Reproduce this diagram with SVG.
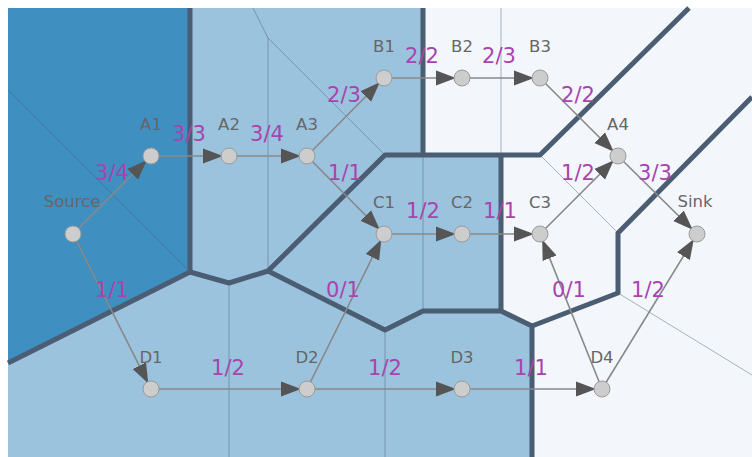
<svg xmlns="http://www.w3.org/2000/svg" width="752" height="457" viewBox="0 0 752 457">
<style>
.dark{fill:#3f8fc0}
.mid{fill:#9bc3de}
.light{fill:#f3f7fb}
.cut{fill:none;stroke:#4a5d72;stroke-width:5;stroke-linejoin:round}
.thin{fill:none;stroke:#4a5d72;stroke-width:1;stroke-opacity:0.45}
.edge{fill:none;stroke:#888;stroke-width:1.6;marker-end:url(#arr)}
.node circle{fill:#cdcdcd;stroke:#9a9a9a;stroke-width:1}
.nl{font-family:"DejaVu Sans",sans-serif;font-size:16.5px;fill:#666;text-anchor:middle}
.el{font-family:"DejaVu Sans",sans-serif;font-size:21px;fill:#a844ae;text-anchor:middle}
</style>
<defs>
<marker id="arr" markerUnits="userSpaceOnUse" markerWidth="21" markerHeight="16" refX="20" refY="8" orient="auto">
<path d="M0,0.5 L20,8 L0,15.5 Z" fill="#555"/>
</marker>
</defs>
<rect x="0" y="0" width="752" height="457" fill="#fff"/>
<g id="regions">
<path class="light" d="M8,8 H752 V457 H8 Z"/>
<path class="dark" d="M8,8 H190 V272 L8,363 Z"/>
<path class="mid" d="M190,8 H423 V155 H385 L268,271 L229,283 L190,272 Z"/>
<path class="mid" d="M385,155 H501 V311 H423 L385,330 L268,271 Z"/>
<path class="mid" d="M8,363 L190,272 L229,283 L268,271 L385,330 L423,311 H501 L532,326 V457 H8 Z"/>
</g>
<g id="thin-lines">
<path class="thin" d="M8,90 L190,272"/>
<path class="thin" d="M253,8 L268,38 L385,155"/>
<path class="thin" d="M268,38 V271"/>
<path class="thin" d="M229,283 V457"/>
<path class="thin" d="M385,330 V457"/>
<path class="thin" d="M423,155 V311"/>
<path class="thin" d="M501,8 V155" stroke-opacity="0.2"/>
<path class="thin" d="M540,155 L618,233"/>
<path class="thin" d="M618,293 L752,375"/>
</g>
<g id="cut-lines">
<path class="cut" d="M190,8 V272 L8,363"/>
<path class="cut" d="M190,272 L229,283 L268,271"/>
<path class="cut" d="M268,271 L385,155 H540 L689,8"/>
<path class="cut" d="M423,8 V155"/>
<path class="cut" d="M268,271 L385,330 L423,311 H501 L532,326 V457"/>
<path class="cut" d="M501,155 V311"/>
<path class="cut" d="M532,326 L618,293 V233 L752,97"/>
</g>
<g id="connectors">
<path class="edge" d="M73,234 L146.8,160.2"/>
<path class="edge" d="M151,156 L223,156"/>
<path class="edge" d="M229,156 L301,156"/>
<path class="edge" d="M307,156 L379.8,82.3"/>
<path class="edge" d="M384,78 L456,78"/>
<path class="edge" d="M462,78 L534,78"/>
<path class="edge" d="M540,78 L613.8,151.8"/>
<path class="edge" d="M307,156 L379.8,229.7"/>
<path class="edge" d="M384,234 L456,234"/>
<path class="edge" d="M462,234 L534,234"/>
<path class="edge" d="M540,234 L613.8,160.2"/>
<path class="edge" d="M618,156 L692.7,229.8"/>
<path class="edge" d="M73,234 L148.3,383.6"/>
<path class="edge" d="M151,389 L301,389"/>
<path class="edge" d="M307,389 L381.3,239.4"/>
<path class="edge" d="M307,389 L456,389"/>
<path class="edge" d="M462,389 L596,389"/>
<path class="edge" d="M602,389 L542.2,239.6"/>
<path class="edge" d="M602,389 L693.9,239.1"/>
<text class="el" x="112" y="180">3/4</text>
<text class="el" x="189" y="141">3/3</text>
<text class="el" x="267" y="141">3/4</text>
<text class="el" x="344" y="102">2/3</text>
<text class="el" x="422" y="63">2/2</text>
<text class="el" x="499" y="63">2/3</text>
<text class="el" x="578" y="102">2/2</text>
<text class="el" x="345" y="180">1/1</text>
<text class="el" x="423" y="218">1/2</text>
<text class="el" x="500" y="218">1/1</text>
<text class="el" x="578" y="180">1/2</text>
<text class="el" x="655" y="180">3/3</text>
<text class="el" x="112" y="297">1/1</text>
<text class="el" x="228" y="375">1/2</text>
<text class="el" x="343" y="297">0/1</text>
<text class="el" x="385" y="375">1/2</text>
<text class="el" x="531" y="375">1/1</text>
<text class="el" x="569" y="297">0/1</text>
<text class="el" x="648" y="297">1/2</text>
</g>
<g id="Source" class="node"><circle cx="73" cy="234" r="8"/><text class="nl" x="72" y="207">Source</text></g>
<g id="A1" class="node"><circle cx="151" cy="156" r="8"/><text class="nl" x="151" y="130">A1</text></g>
<g id="A2" class="node"><circle cx="229" cy="156" r="8"/><text class="nl" x="229" y="130">A2</text></g>
<g id="A3" class="node"><circle cx="307" cy="156" r="8"/><text class="nl" x="307" y="130">A3</text></g>
<g id="B1" class="node"><circle cx="384" cy="78" r="8"/><text class="nl" x="384" y="52">B1</text></g>
<g id="B2" class="node"><circle cx="462" cy="78" r="8"/><text class="nl" x="462" y="52">B2</text></g>
<g id="B3" class="node"><circle cx="540" cy="78" r="8"/><text class="nl" x="540" y="52">B3</text></g>
<g id="A4" class="node"><circle cx="618" cy="156" r="8"/><text class="nl" x="618" y="130">A4</text></g>
<g id="Sink" class="node"><circle cx="697" cy="234" r="8"/><text class="nl" x="695" y="207">Sink</text></g>
<g id="C1" class="node"><circle cx="384" cy="234" r="8"/><text class="nl" x="384" y="208">C1</text></g>
<g id="C2" class="node"><circle cx="462" cy="234" r="8"/><text class="nl" x="462" y="208">C2</text></g>
<g id="C3" class="node"><circle cx="540" cy="234" r="8"/><text class="nl" x="540" y="208">C3</text></g>
<g id="D1" class="node"><circle cx="151" cy="389" r="8"/><text class="nl" x="151" y="363">D1</text></g>
<g id="D2" class="node"><circle cx="307" cy="389" r="8"/><text class="nl" x="307" y="363">D2</text></g>
<g id="D3" class="node"><circle cx="462" cy="389" r="8"/><text class="nl" x="462" y="363">D3</text></g>
<g id="D4" class="node"><circle cx="602" cy="389" r="8"/><text class="nl" x="602" y="363">D4</text></g>
</svg>
